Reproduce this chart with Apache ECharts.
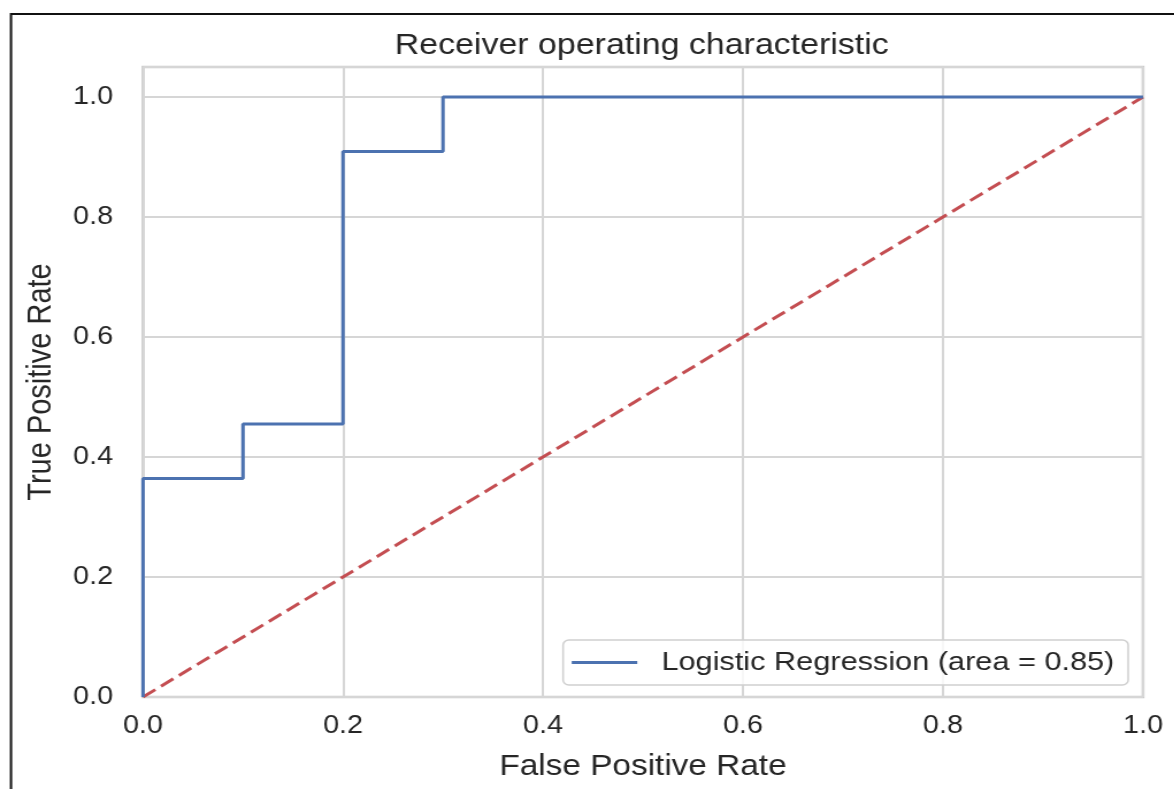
<!DOCTYPE html>
<html>
<head>
<meta charset="utf-8">
<script src="https://cdn.jsdelivr.net/npm/echarts@6/dist/echarts.min.js"></script>
<style>
  html, body { margin: 0; padding: 0; background: #fff; overflow: hidden; }
  /* the source image is stretched sideways, so draw narrower and stretch the same way */
  #chart { width: 1021px; height: 789px; transform: scaleX(1.15); transform-origin: 0 0; }
</style>
</head>
<body>
<div id="chart"></div>
<script>
// ROC curve points
var fpr = [0, 0, 0.1, 0.1, 0.2, 0.2, 0.3, 0.3, 1.0];
var tpr = [0, 0.364, 0.364, 0.455, 0.455, 0.909, 0.909, 1.0, 1.0];
// chance line
var diagX = [0, 1];
var diagY = [0, 1];
var curveName = 'Logistic Regression (area = 0.85)';

var textColor = '#262626';
var font = 'Liberation Sans, Arial, sans-serif';
var sx = 1.15; // horizontal stretch

var chart = echarts.init(document.getElementById('chart'), null, {renderer: 'canvas'});

function pairs(xs, ys) {
    return xs.map(function (x, i) { return [x, ys[i]]; });
}

var option = {
    backgroundColor: '#fff',
    animation: false,
    title: {
        text: 'Receiver operating characteristic',
        left: 636 / sx,
        textAlign: 'center',
        top: 26,
        textStyle: {color: textColor, fontFamily: font, fontSize: 29.5, fontWeight: 'normal'}
    },
    grid: {
        left: 143 / sx,
        top: 67,
        width: 1000 / sx,
        height: 630,
        show: true,
        borderColor: '#cccccc',
        borderWidth: 2.5,
        backgroundColor: 'transparent'
    },
    xAxis: {
        type: 'value',
        min: 0,
        max: 1,
        interval: 0.2,
        name: 'False Positive Rate',
        nameLocation: 'middle',
        nameGap: 55,
        nameTextStyle: {color: textColor, fontFamily: font, fontSize: 29},
        axisLine: {show: false},
        axisTick: {show: false},
        axisLabel: {
            color: textColor, fontFamily: font, fontSize: 25, margin: 17,
            formatter: function (v) { return v.toFixed(1); }
        },
        splitLine: {show: true, lineStyle: {color: '#d6d6d6', width: 2}}
    },
    yAxis: {
        type: 'value',
        min: 0,
        max: 1.05,
        interval: 0.2,
        name: 'True Positive Rate',
        nameLocation: 'middle',
        nameGap: 74,
        nameTextStyle: {color: textColor, fontFamily: font, fontSize: 29},
        axisLine: {show: false},
        axisTick: {show: false},
        axisLabel: {
            color: textColor, fontFamily: font, fontSize: 25, margin: 26,
            showMaxLabel: false,
            formatter: function (v) { return v.toFixed(1); }
        },
        splitLine: {show: true, lineStyle: {color: '#d6d6d6', width: 2}}
    },
    legend: {
        data: [curveName],
        right: 40,
        top: 640,
        orient: 'vertical',
        icon: 'rect',
        itemWidth: 57,
        itemHeight: 3,
        padding: [9, 12, 9, 7.5],
        backgroundColor: 'rgba(255,255,255,0.8)',
        borderColor: '#d0d0d0',
        borderWidth: 1.5,
        borderRadius: 5,
        textStyle: {color: textColor, fontFamily: font, fontSize: 26.7, padding: [0, 0, 0, 16]}
    },
    series: [
        {
            name: curveName,
            type: 'line',
            data: pairs(fpr, tpr),
            symbol: 'none',
            color: '#4C72B0',
            lineStyle: {color: '#4C72B0', width: 3},
            z: 3
        },
        {
            name: 'chance',
            type: 'line',
            data: pairs(diagX, diagY),
            symbol: 'none',
            color: '#C44E52',
            lineStyle: {color: '#C44E52', width: 3, type: [13, 6]},
            z: 2
        }
    ],
    graphic: [
        {
            type: 'polyline',
            silent: true,
            shape: {points: [[11 / sx, 789], [11 / sx, 14], [1021, 14]]},
            style: {stroke: '#111', lineWidth: 2, fill: null}
        }
    ]
};

chart.setOption(option);
</script>
</body>
</html>
